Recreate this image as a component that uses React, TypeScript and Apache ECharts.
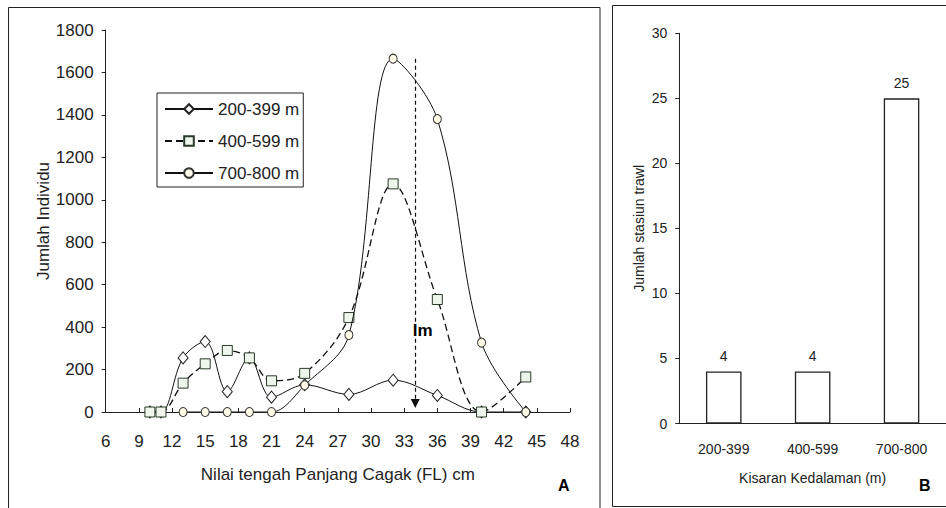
import React, { useEffect, useRef } from "react";
import * as echarts from "echarts";

// ---------- Panel A data ----------
const flMid = [10, 11, 13, 15, 17, 19, 21, 24, 28, 32, 36, 40, 44];
const depth200 = [0, 0, 255, 332, 96, 255, 70, 128, 83, 150, 78, 0, 0];
const depth400 = [0, 0, 136, 227, 290, 255, 147, 182, 445, 1075, 530, 0, 165];
const flMid700 = [13, 15, 17, 19, 21, 24, 28, 32, 36, 40, 44];
const depth700 = [0, 0, 0, 0, 0, 126, 363, 1665, 1380, 327, 0];
const seriesNames = ["200-399 m", "400-599 m", "700-800 m"];
const lmX = 34;
const lmTop = 1665;
const lmLabelY = 382;

// ---------- Panel B data ----------
const rangeCats = ["200-399", "400-599", "700-800"];
const stationCounts = [4, 4, 25];

const FONT = "'Liberation Sans', Arial, sans-serif";
const TXT = "#222";

export default function App() {
  const ref = useRef<HTMLDivElement>(null);
  useEffect(() => {
    if (!ref.current) return;
    const chart = echarts.init(ref.current, undefined, { renderer: "svg" });
    const pairs = (xs: number[], ys: number[]) => xs.map((x, i) => [x, ys[i]]);
    const plain = (v: number) => String(v);
    const lineBase = {
      type: "line" as const,
      xAxisIndex: 0,
      yAxisIndex: 0,
      smooth: 0.35,
      showSymbol: true,
    };
    chart.setOption({
      animation: false,
      textStyle: { fontFamily: FONT, color: TXT },
      grid: [
        { left: 105.7, top: 30, width: 464.3, height: 382 },
        { left: 679.3, top: 33.3, width: 269, height: 390.2 },
      ],
      legend: {
        data: seriesNames,
        orient: "vertical",
        left: 157,
        top: 93,
        borderColor: "#222",
        borderWidth: 1,
        padding: [6, 4, 4, 7],
        itemWidth: 48,
        itemHeight: 12,
        itemGap: 12,
        textStyle: { fontSize: 17, lineHeight: 20, color: TXT, fontFamily: FONT },
      },
      xAxis: [
        {
          type: "value",
          gridIndex: 0,
          min: 6,
          max: 48,
          interval: 3,
          splitLine: { show: false },
          axisLine: { lineStyle: { color: "#222", width: 1 } },
          axisTick: { inside: true, length: 4, lineStyle: { color: "#222" } },
          axisLabel: { margin: 21, fontSize: 17, color: TXT, formatter: plain },
          name: "Nilai tengah Panjang Cagak (FL) cm",
          nameLocation: "middle",
          nameGap: 54,
          nameTextStyle: { fontSize: 17, color: TXT },
        },
        {
          type: "category",
          gridIndex: 1,
          data: rangeCats,
          axisLine: { lineStyle: { color: "#222", width: 1 } },
          axisTick: { inside: false, length: 5, lineStyle: { color: "#222" } },
          axisLabel: { margin: 18, fontSize: 14, color: TXT },
          name: "Kisaran Kedalaman (m)",
          nameLocation: "middle",
          nameGap: 47,
          nameTextStyle: { fontSize: 14, color: TXT },
        },
      ],
      yAxis: [
        {
          type: "value",
          gridIndex: 0,
          min: 0,
          max: 1800,
          interval: 200,
          splitLine: { show: false },
          axisLine: { show: true, lineStyle: { color: "#222", width: 1 } },
          axisTick: { show: true, inside: false, length: 4, lineStyle: { color: "#222" } },
          axisLabel: { margin: 12, fontSize: 17, color: TXT, formatter: plain },
          name: "Jumlah Individu",
          nameLocation: "middle",
          nameGap: 44,
          nameTextStyle: { fontSize: 17, color: TXT },
        },
        {
          type: "value",
          gridIndex: 1,
          min: 0,
          max: 30,
          interval: 5,
          splitLine: { show: false },
          axisLine: { show: true, lineStyle: { color: "#222", width: 1 } },
          axisTick: { show: true, inside: false, length: 4, lineStyle: { color: "#222" } },
          axisLabel: { margin: 12, fontSize: 14, color: TXT, formatter: plain },
          name: "Jumlah stasiun trawl",
          nameLocation: "middle",
          nameGap: 33,
          nameTextStyle: { fontSize: 14, color: TXT },
        },
      ],
      series: [
        {
          ...lineBase,
          name: seriesNames[0],
          data: pairs(flMid, depth200),
          symbol: "diamond",
          symbolSize: [10, 12],
          lineStyle: { color: "#111", width: 1 },
          itemStyle: { color: "#ffffff", borderColor: "#222", borderWidth: 1 },
          z: 3,
        },
        {
          ...lineBase,
          name: seriesNames[1],
          data: pairs(flMid, depth400),
          symbol: "rect",
          symbolSize: 10,
          lineStyle: { color: "#111", width: 1.3, type: [7, 4] },
          itemStyle: { color: "#eef5ea", borderColor: "#2a3a2a", borderWidth: 1 },
          z: 4,
        },
        {
          ...lineBase,
          name: seriesNames[2],
          data: pairs(flMid700, depth700),
          symbol: "circle",
          symbolSize: [8, 9],
          lineStyle: { color: "#111", width: 1 },
          itemStyle: { color: "#fffbe6", borderColor: "#333", borderWidth: 1 },
          z: 5,
          markLine: {
            silent: true,
            animation: false,
            label: { show: false },
            emphasis: { disabled: true },
            lineStyle: { color: "#111", type: [4, 3], width: 1.2 },
            data: [
              [
                { coord: [lmX, lmTop], symbol: "none" },
                { coord: [lmX, 40], symbol: "triangle", symbolSize: 9 },
              ],
            ],
          },
          markPoint: {
            silent: true,
            animation: false,
            data: [
              {
                coord: [lmX, lmLabelY],
                symbol: "rect",
                symbolSize: 1,
                itemStyle: { color: "rgba(0,0,0,0)" },
                label: {
                  show: true,
                  formatter: "lm",
                  position: "right",
                  distance: -3,
                  fontWeight: "bold",
                  fontSize: 17,
                  color: "#000",
                  fontFamily: FONT,
                },
              },
            ],
          },
        },
        {
          type: "bar",
          xAxisIndex: 1,
          yAxisIndex: 1,
          data: stationCounts,
          barWidth: "40%",
          itemStyle: { color: "#ffffff", borderColor: "#222", borderWidth: 1.3 },
          label: { show: true, position: "top", distance: 8, fontSize: 14, color: TXT },
        },
      ],
      graphic: [
        {
          type: "rect",
          shape: { x: 8.5, y: 7.5, width: 591.5, height: 510 },
          style: { fill: "none", stroke: "#222", lineWidth: 1 },
          silent: true,
          z: -1,
        },
        {
          type: "rect",
          shape: { x: 612.5, y: 5.5, width: 340, height: 501 },
          style: { fill: "none", stroke: "#222", lineWidth: 1 },
          silent: true,
          z: -1,
        },
        {
          type: "text",
          x: 558,
          y: 477,
          style: { text: "A", font: "bold 16px 'Liberation Sans', Arial, sans-serif", fill: "#000" },
        },
        {
          type: "text",
          x: 919,
          y: 477,
          style: { text: "B", font: "bold 16px 'Liberation Sans', Arial, sans-serif", fill: "#000" },
        },
      ],
    });
    return () => chart.dispose();
  }, []);
  return (
    <div
      ref={ref}
      style={{ position: "absolute", left: 0, top: 0, width: 946, height: 508, background: "#fff" }}
    />
  );
}
